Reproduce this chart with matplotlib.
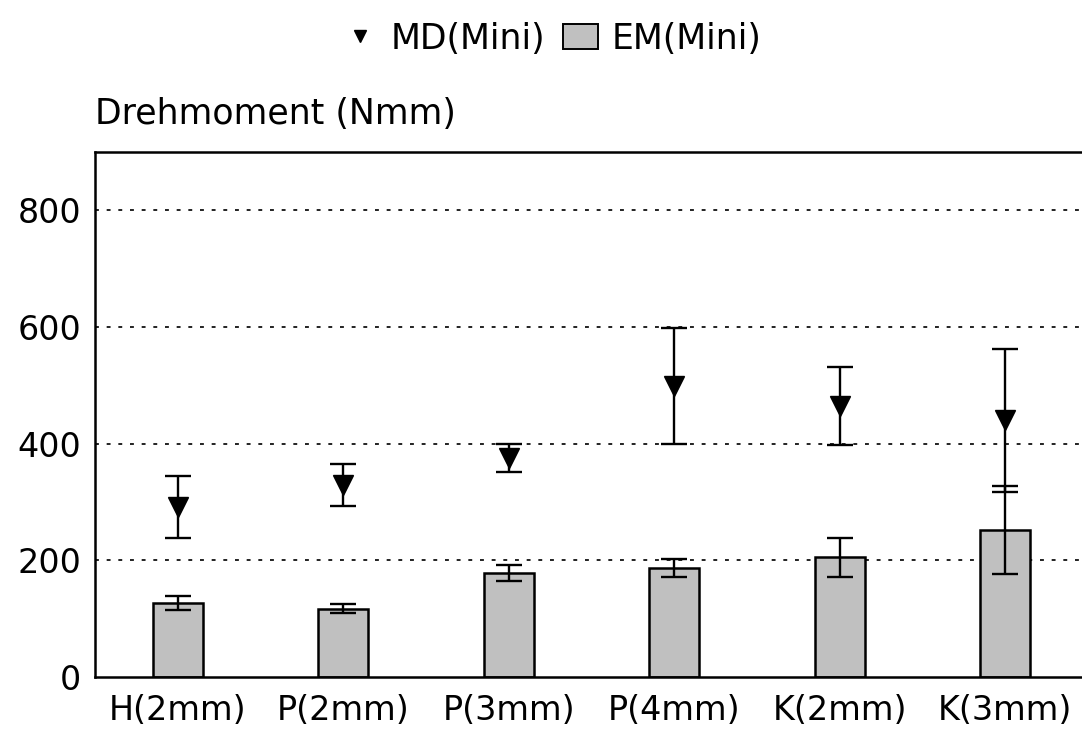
import numpy as np
import matplotlib.pyplot as plt
from matplotlib.lines import Line2D
from matplotlib.patches import Patch

plt.rcParams['font.family'] = ['DejaVu Sans']

kategorien = ['H(2mm)', 'P(2mm)', 'P(3mm)', 'P(4mm)', 'K(2mm)', 'K(3mm)']
md_mittel = [292, 329, 376, 499, 465, 440]
md_fehler = [53, 36, 24, 99, 67, 122]
em_mittel = [127, 117, 178, 187, 205, 252]
em_fehler = [12, 8, 14, 16, 33, 76]
y_ticks = [0, 200, 400, 600, 800]

fig = plt.figure(figsize=(10.82, 7.29), dpi=100)
ax = fig.add_axes([0.0878, 0.0713, 0.9177, 0.7202])

x = np.arange(len(kategorien))
ax.bar(x, em_mittel, width=0.3, color='#c0c0c0', edgecolor='black', linewidth=1.8, zorder=2)
ax.errorbar(x, em_mittel, yerr=em_fehler, fmt='none', ecolor='black',
            elinewidth=1.7, capsize=9.7, capthick=1.7, zorder=3)
ax.errorbar(x, md_mittel, yerr=md_fehler, fmt='v', color='black', markersize=14,
            ecolor='black', elinewidth=1.7, capsize=9.7, capthick=1.7, zorder=4)

ax.set_xlim(-0.5, 5.5)
ax.set_ylim(0, 900)
ax.set_yticks(y_ticks)
ax.set_xticks(x)
ax.set_xticklabels(kategorien)
ax.tick_params(length=0, labelsize=24)
ax.tick_params(axis='x', pad=12)
ax.tick_params(axis='y', pad=10)
for yy in y_ticks[1:]:
    ax.axhline(yy, color='#222222', linestyle=(0, (2, 4)), linewidth=1.4, zorder=1)
for s in ax.spines.values():
    s.set_linewidth(1.8)

fig.text(0.0878, 0.843, 'Drehmoment (Nmm)', fontsize=25, ha='left', va='center')

handles = [Line2D([], [], marker='v', color='black', linestyle='none', markersize=9),
           Patch(facecolor='#c0c0c0', edgecolor='black', linewidth=1.4)]
fig.legend(handles, ['MD(Mini)', 'EM(Mini)'], loc='center', bbox_to_anchor=(0.51, 0.947),
           ncol=2, frameon=False, fontsize=25, handlelength=1.0, handletextpad=0.4,
           columnspacing=0.5)

plt.savefig('out.png', dpi=100)
